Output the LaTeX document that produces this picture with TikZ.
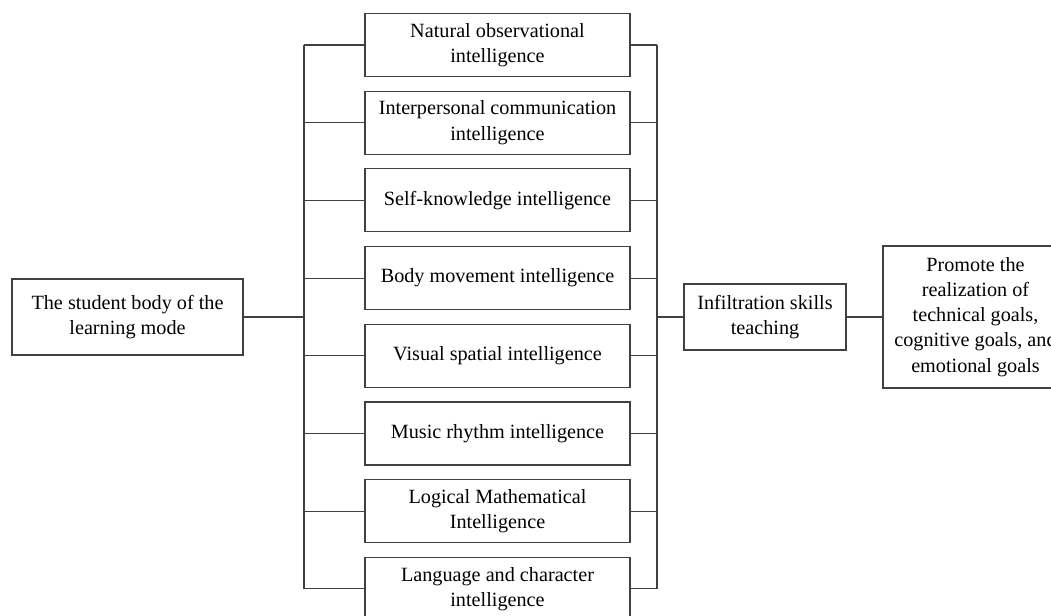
\documentclass[tikz,border=0pt]{standalone}
\usepackage{fontspec}
\setmainfont{Liberation Serif}
\usetikzlibrary{positioning}

\begin{document}
\begin{tikzpicture}[
    font=\fontsize{11.5}{14.3}\selectfont,
    box/.style={rectangle,draw=black!75,line width=.6pt,align=center,inner sep=2pt},
    intel/.style={box,minimum width=5.3cm,minimum height=1.26cm},
    bus/.style={draw=black!75,line width=.6pt}
  ]
    \useasboundingbox (0,0) rectangle (21.02,-12.3);

    % student side
    \node[box,minimum width=4.62cm,minimum height=1.52cm] (student) at (2.55,-6.34) {The student body of the\\learning mode};

    % the eight intelligences
    \node[intel] (i1) at (9.95,-0.90) {Natural observational\\intelligence};
    \node[intel] (i2) at (9.95,-2.454) {Interpersonal communication\\intelligence};
    \node[intel] (i3) at (9.95,-4.008) {Self-knowledge intelligence};
    \node[intel] (i4) at (9.95,-5.562) {Body movement intelligence};
    \node[intel] (i5) at (9.95,-7.116) {Visual spatial intelligence};
    \node[intel] (i6) at (9.95,-8.670) {Music rhythm intelligence};
    \node[intel] (i7) at (9.95,-10.224) {Logical Mathematical\\Intelligence};
    \node[intel] (i8) at (9.95,-11.778) {Language and character\\intelligence};

    % teaching and goals
    \node[box,minimum width=3.24cm,minimum height=1.32cm] (teach) at (15.3,-6.34) {Infiltration skills\\teaching};
    \node[box,minimum width=3.7cm,minimum height=2.84cm] (goals) at (19.51,-6.34) {Promote the\\realization of\\technical goals,\\cognitive goals, and\\emotional goals};

    % bus lines
    \coordinate (lbus) at (6.08,0);
    \coordinate (rbus) at (13.14,0);

    \draw[bus] (student.east) -- (student.east -| lbus);
    \draw[bus] (i1.west -| lbus) -- (i8.west -| lbus);
    \draw[bus] (i1.east -| rbus) -- (i8.east -| rbus);
    \foreach \i in {1,...,8} {
      \draw[bus] (i\i.west) -- (i\i.west -| lbus);
      \draw[bus] (i\i.east) -- (i\i.east -| rbus);
    }
    \draw[bus] (teach.west -| rbus) -- (teach.west);
    \draw[bus] (teach.east) -- (goals.west);
\end{tikzpicture}
\end{document}
